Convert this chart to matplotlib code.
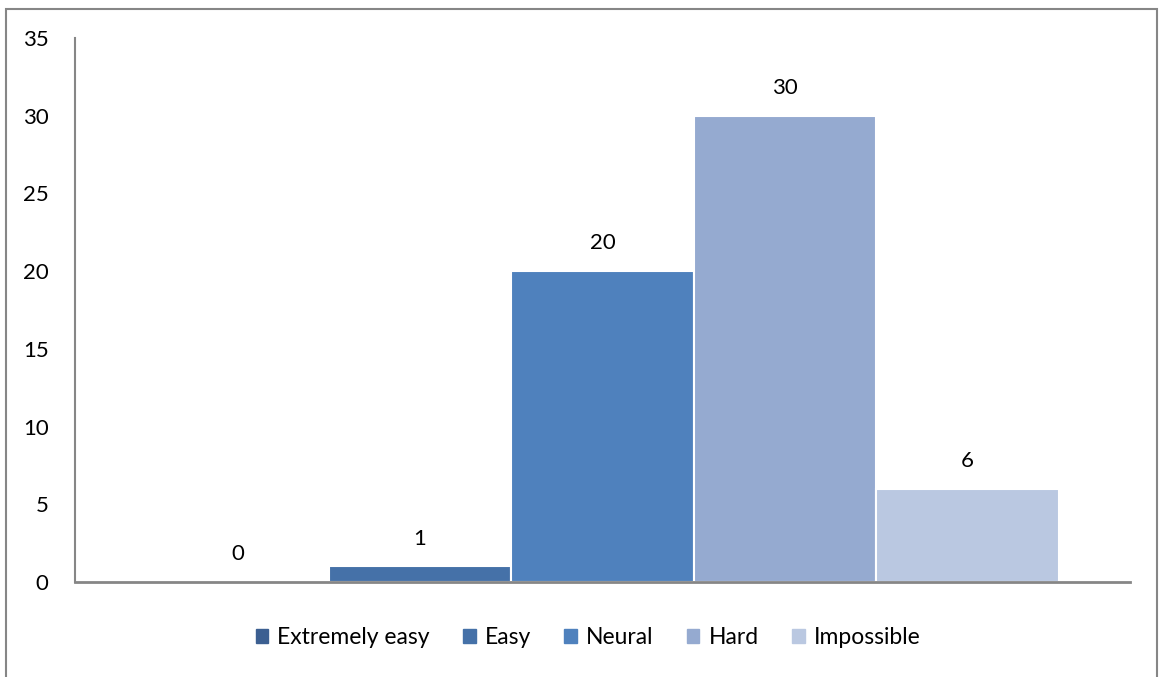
import matplotlib
matplotlib.use("Agg")
from matplotlib import pyplot as plt
from matplotlib.patches import Rectangle
import numpy as np

categories = ["Extremely easy", "Easy", "Neural", "Hard", "Impossible"]
values = [0, 1, 20, 30, 6]
colors = ["#3C5F91", "#4571A8", "#4F81BD", "#95AAD0", "#BAC8E1"]
y_ticks = [0, 5, 10, 15, 20, 25, 30, 35]

plt.rcParams['font.family'] = ['Lato', 'DejaVu Sans']

dpi = 100
fig = plt.figure(figsize=(1159 / dpi, 677 / dpi), dpi=dpi)
ax = fig.add_axes([75 / 1159, 1 - 582 / 677, (1130 - 75) / 1159, (582 - 38) / 677])

x = np.arange(len(values))
bars = ax.bar(x, values, width=1.0, color=colors, edgecolor="white",
              linewidth=1.5, label=categories, zorder=2)

for xi, v in zip(x, values):
    ax.annotate(str(v), (xi, v), xytext=(0, 20), textcoords="offset points",
                ha="center", va="center", fontsize=16)

ax.set_xlim(-0.889, 4.889)
ax.set_ylim(0, 35)
ax.set_yticks(y_ticks)
ax.set_xticks([])
ax.tick_params(axis="y", length=0, labelsize=16, pad=19)
for s in ["top", "right"]:
    ax.spines[s].set_visible(False)
ax.spines["left"].set_color("#868686")
ax.spines["left"].set_linewidth(1.5)
ax.spines["bottom"].set_color("#868686")
ax.spines["bottom"].set_linewidth(2)
ax.spines["bottom"].set_zorder(3)

handles = [Rectangle((0, 0), 1, 1, color=c) for c in colors]
fig.legend(handles, categories, loc="center", bbox_to_anchor=(588 / 1159, 1 - 638 / 677),
           ncol=5, frameon=False, fontsize=16.5, handlelength=0.55, handleheight=0.55,
           handletextpad=0.4, columnspacing=1.45)

# outer chart border
fig.patches.append(Rectangle((6 / 1159, -0.01), 1151 / 1159, 1 - 9 / 677 + 0.01,
                             transform=fig.transFigure, fill=False,
                             edgecolor="#868686", linewidth=1.5))

fig.savefig("out.png", dpi=dpi)
